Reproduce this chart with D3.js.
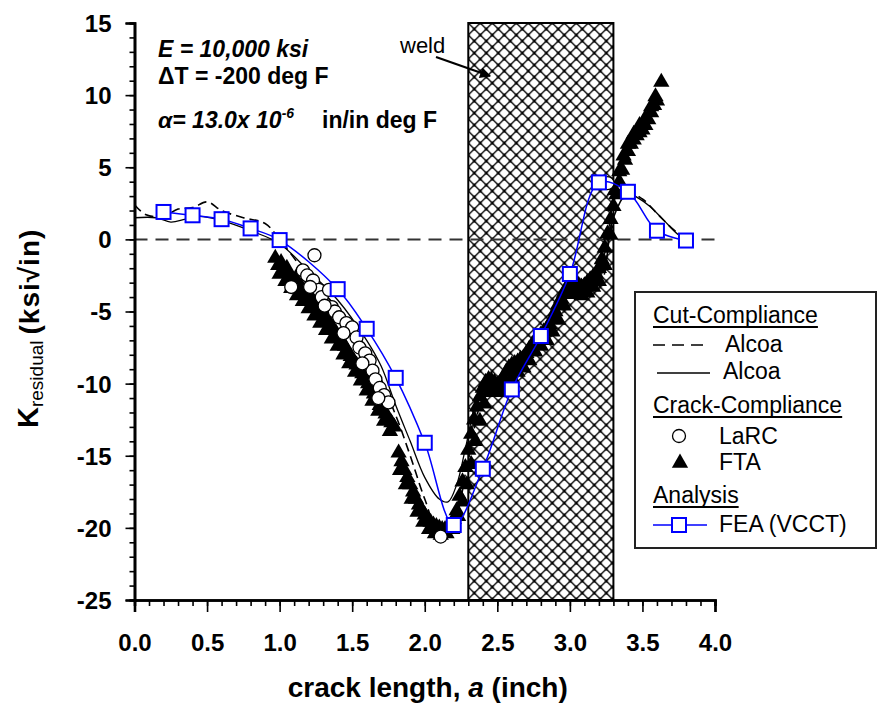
<!DOCTYPE html>
<html lang="en">
<head>
<meta charset="UTF-8">
<title>K residual vs crack length</title>
<script src="https://d3js.org/d3.v7.min.js"></script>
<style>
  body { margin: 0; background: #fff; }
  svg text { font-family: "Liberation Sans", Arial, sans-serif; }
</style>
</head>
<body>
<script>
// ---- data ----
var xTickValues = [0, 0.5, 1, 1.5, 2, 2.5, 3, 3.5, 4];
var yTickValues = [-25, -20, -15, -10, -5, 0, 5, 10, 15];
var weldRange = [2.3, 3.3];

// FEA (VCCT)
var feaData = [[0.2,1.9],[0.4,1.67],[0.6,1.4],[0.8,0.76],[1.0,-0.05],[1.4,-3.45],[1.6,-6.2],
  [1.8,-9.6],[2.0,-14.1],[2.2,-19.8],[2.4,-15.9],[2.6,-10.4],[2.8,-6.7],[3.0,-2.4],
  [3.2,3.95],[3.4,3.3],[3.6,0.6],[3.8,-0.08]];

// Cut-compliance, Alcoa (dashed)
var alcoaDashed = [[0,2.4],[0.08,1.7],[0.2,1.6],[0.3,2.1],[0.4,2.2],[0.5,2.6],[0.6,2.0],[0.75,1.5],
  [0.9,1.1],[1.0,0],[1.2,-2.6],[1.4,-4.8],[1.6,-7.6],[1.8,-12.2],[1.9,-15.0],[2.0,-18.0],
  [2.1,-20.3],[2.2,-19.5],[2.3,-15.2],[2.4,-11.0],[2.5,-9.8],[2.6,-9.8],[2.8,-7.2],[3.0,-3.5],
  [3.1,-3.0],[3.2,-3.3],[3.3,1.5],[3.4,3.2],[3.5,2.8],[3.6,1.8],[3.7,0.8],[3.8,0]];

// Cut-compliance, Alcoa (solid)
var alcoaSolid = [[0,1.5],[0.15,1.5],[0.25,1.2],[0.35,1.4],[0.45,1.6],[0.6,1.3],[0.8,0.6],[1.0,-0.3],
  [1.2,-2.2],[1.4,-4.2],[1.6,-7.0],[1.7,-8.8],[1.8,-11.5],[1.9,-14.0],[2.0,-16.5],[2.1,-18.0],
  [2.16,-18.2],[2.22,-17.0],[2.28,-14.5],[2.36,-11.0],[2.44,-9.4],[2.5,-10.0],[2.6,-10.0],
  [2.7,-8.5],[2.8,-7.5],[2.9,-5.5],[3.0,-3.2],[3.1,-3.0],[3.15,-3.5],[3.2,-2.5],[3.25,-0.5],
  [3.3,2.5],[3.35,3.5],[3.45,3.0],[3.55,2.3],[3.65,1.3],[3.75,0.3],[3.82,0]];

// Crack-compliance, LaRC
var larcData = [[1.08,-3.3],[1.16,-2.15],[1.24,-1.1],[1.19,-2.5],[1.23,-2.85],[1.27,-3.5],
  [1.29,-4.0],[1.34,-3.5],[1.36,-4.7],[1.38,-5.0],[1.41,-5.4],[1.46,-5.8],[1.5,-6.1],
  [1.53,-6.8],[1.55,-7.5],[1.59,-7.9],[1.62,-8.4],[1.64,-9.1],[1.66,-9.7],[1.69,-10.3],
  [1.72,-10.8],[1.75,-11.3],[1.21,-3.3],[1.31,-4.6],[1.44,-6.5],[1.57,-8.6],[1.68,-11.0],
  [2.11,-20.6],[3.26,3.9]];

// Crack-compliance, FTA
var ftaData = [[0.97,-1.3],[0.99,-1.8],[1.01,-1.6],[1.03,-2.3],[1.05,-2.0],[1.07,-2.6],[1.09,-2.9],
  [1.11,-2.7],[1.13,-3.2],[1.15,-3.3],[1.17,-3.6],[1.19,-3.8],[1.21,-4.0],[1.23,-4.3],[1.25,-4.5],
  [1.27,-4.7],[1.29,-5.0],[1.31,-5.3],[1.33,-5.6],[1.35,-5.9],[1.37,-6.2],[1.39,-6.5],[1.41,-6.8],
  [1.43,-7.1],[1.45,-7.4],[1.47,-7.8],[1.49,-8.1],[1.51,-8.4],[1.53,-8.7],[1.55,-9.0],[1.57,-9.3],
  [1.59,-9.7],[1.61,-10.0],[1.63,-10.4],[1.65,-10.7],[1.67,-11.1],[1.69,-11.5],[1.71,-11.8],
  [1.73,-12.1],[1.75,-12.4],[1.77,-12.7],[1.79,-13.0],[1.82,-14.8],[1.84,-15.4],[1.86,-16.0],
  [1.88,-16.5],[1.90,-17.0],[1.92,-17.5],[1.94,-18.0],[1.96,-18.4],[1.98,-18.8],[2.00,-19.1],
  [2.02,-19.4],[2.04,-19.6],[2.06,-19.8],[2.08,-19.9],[2.10,-20.0],[2.12,-20.1],[2.14,-20.1],
  [2.16,-20.0],[2.18,-19.8],[2.20,-19.4],[2.22,-18.8],[2.24,-17.8],[2.26,-16.8],[2.28,-15.8],
  [2.30,-14.6],[2.32,-13.5],[2.34,-12.5],[2.36,-11.6],[2.38,-10.9],[2.40,-10.3],[2.42,-9.9],
  [2.44,-9.7],[2.46,-9.8],[2.48,-9.9],[2.50,-10.1],[2.52,-10.0],[2.54,-9.6],[2.56,-9.2],
  [2.58,-8.9],[2.60,-8.7],[2.62,-8.6],[2.64,-8.5],[2.66,-8.3],[2.68,-8.2],[2.70,-7.9],[2.72,-7.6],
  [2.74,-7.3],[2.76,-7.0],[2.78,-6.8],[2.80,-6.6],[2.82,-6.4],[2.84,-6.2],[2.86,-5.9],[2.88,-5.5],
  [2.90,-5.0],[2.92,-4.5],[2.94,-4.1],[2.96,-3.7],[2.98,-3.3],[3.00,-3.0],[3.02,-2.9],[3.04,-3.0],
  [3.06,-3.2],[3.08,-3.3],[3.10,-3.2],[3.12,-3.0],[3.14,-2.8],[3.16,-2.6],[3.18,-2.4],[3.20,-2.0],
  [3.22,-1.4],[3.24,-0.6],[3.26,0.4],[3.28,1.4],[3.30,2.3],[3.32,3.1],[3.34,4.0],[3.36,4.8],
  [3.38,5.5],[3.40,6.1],[3.42,6.6],[3.44,6.9],[3.46,7.2],[3.48,7.4],[3.50,7.6],[3.52,7.9],
  [3.54,8.3],[3.56,8.8],[3.58,9.3],[3.60,9.6],[3.63,10.9],
  // second, lower row of the scattered band
  [1.00,-2.4],[1.04,-2.9],[1.08,-3.4],[1.12,-3.9],[1.16,-4.3],[1.20,-4.8],[1.24,-5.3],[1.28,-5.8],
  [1.32,-6.3],[1.36,-6.9],[1.40,-7.4],[1.44,-8.0],[1.48,-8.6],[1.52,-9.2],[1.56,-9.8],[1.60,-10.5],
  [1.64,-11.2],[1.68,-11.9],[1.72,-12.6],[1.76,-13.3],[1.83,-16.0],[1.87,-17.0],[1.91,-18.0],
  [1.95,-18.9],[1.99,-19.6],[2.03,-20.1],[2.07,-20.4],[2.11,-20.5],[2.15,-20.4],[2.19,-20.1],
  [2.23,-19.2],[2.26,-18.2],[2.29,-17.0],[2.32,-15.6],[2.35,-14.0],[2.38,-12.6],[2.41,-11.4],
  [2.44,-10.6],[2.48,-10.6],[2.52,-10.6],[2.56,-10.2],[2.60,-9.6],[2.64,-9.2],[2.68,-8.9],
  [2.72,-8.4],[2.76,-7.8],[2.80,-7.4],[2.84,-7.0],[2.88,-6.4],[2.92,-5.6],[2.96,-4.6],[3.00,-3.8],
  [3.04,-3.6],[3.08,-3.9],[3.12,-3.7],[3.16,-3.3],[3.20,-2.9],[3.24,-1.8],[3.28,0.3],[3.31,3.4],
  [3.34,4.7],[3.37,5.8],[3.40,6.6],[3.44,7.3],[3.48,7.9],[3.52,8.4],[3.56,9.2],[3.59,9.9]];

// ---- layout ----
var width = 878, height = 707;
var margin = {top: 23, right: 163, bottom: 107, left: 134.5};

var svg = d3.select("body").append("svg")
    .attr("width", width)
    .attr("height", height);

var x = d3.scaleLinear().domain([0, 4]).range([margin.left, width - margin.right]);
var y = d3.scaleLinear().domain([-25, 15]).range([height - margin.bottom, margin.top]);

// crosshatch for the weld zone
var defs = svg.append("defs");
var pat = defs.append("pattern")
    .attr("id", "hatch")
    .attr("patternUnits", "userSpaceOnUse")
    .attr("width", 12).attr("height", 12)
    .attr("x", x(weldRange[0])).attr("y", margin.top);
pat.append("rect").attr("width", 12).attr("height", 12).attr("fill", "#fff");
pat.append("path")
    .attr("d", "M0,0L12,12M12,0L0,12M-6,6L6,18M6,-6L18,6M-6,6L6,-6M6,18L18,6")
    .attr("stroke", "#000").attr("stroke-width", 1.35);
[[6,6],[0,0],[12,0],[0,12],[12,12]].forEach(function(p) {
  pat.append("circle").attr("cx", p[0]).attr("cy", p[1]).attr("r", 1.6).attr("fill", "#000");
});

svg.append("rect")
    .attr("x", x(weldRange[0]))
    .attr("y", y(15))
    .attr("width", x(weldRange[1]) - x(weldRange[0]))
    .attr("height", y(-25) - y(15))
    .attr("fill", "url(#hatch)")
    .attr("stroke", "#000")
    .attr("stroke-width", 2);

// zero line
svg.append("line")
    .attr("x1", x(0)).attr("x2", x(4))
    .attr("y1", y(0)).attr("y2", y(0))
    .attr("stroke", "#333").attr("stroke-width", 2)
    .attr("stroke-dasharray", "13,8");

var line = d3.line().x(function(d) { return x(d[0]); }).y(function(d) { return y(d[1]); })
    .curve(d3.curveCatmullRom);

svg.append("path")
    .datum(alcoaSolid)
    .attr("d", line)
    .attr("fill", "none").attr("stroke", "#000").attr("stroke-width", 1.3);

svg.append("path")
    .datum(alcoaDashed)
    .attr("d", line)
    .attr("fill", "none").attr("stroke", "#000").attr("stroke-width", 1.6)
    .attr("stroke-dasharray", "9,5");

// FTA triangles
var tri = d3.symbol().type(d3.symbolTriangle).size(115);
svg.append("g").selectAll("path")
    .data(ftaData)
    .enter().append("path")
    .attr("d", tri)
    .attr("transform", function(d) { return "translate(" + x(d[0]) + "," + y(d[1]) + ")"; })
    .attr("fill", "#000");

// LaRC circles
svg.append("g").selectAll("circle")
    .data(larcData)
    .enter().append("circle")
    .attr("cx", function(d) { return x(d[0]); })
    .attr("cy", function(d) { return y(d[1]); })
    .attr("r", 6.5)
    .attr("fill", "#fff").attr("stroke", "#000").attr("stroke-width", 1.3);

// FEA line + squares
svg.append("path")
    .datum(feaData)
    .attr("d", line)
    .attr("fill", "none").attr("stroke", "#0000ff").attr("stroke-width", 1.5);

svg.append("g").selectAll("rect")
    .data(feaData)
    .enter().append("rect")
    .attr("x", function(d) { return x(d[0]) - 7; })
    .attr("y", function(d) { return y(d[1]) - 7; })
    .attr("width", 14).attr("height", 14)
    .attr("fill", "#fff").attr("stroke", "#0000ff").attr("stroke-width", 2);

// axes
svg.append("g")
    .attr("transform", "translate(0," + y(-25) + ")")
    .call(d3.axisBottom(x).tickValues(xTickValues).tickSize(12).tickPadding(22)
        .tickFormat(d3.format(".1f")));
svg.append("g")
    .attr("transform", "translate(0," + y(-25) + ")")
    .call(d3.axisBottom(x).tickValues(d3.range(0, 41).map(function(i) { return i / 10; }))
        .tickSize(6).tickFormat(""));

var yAxis = svg.append("g")
    .attr("transform", "translate(" + x(0) + ",0)")
    .call(d3.axisLeft(y).tickValues(yTickValues).tickSize(9).tickPadding(14)
        .tickFormat(function(d) { return String(d); }));
svg.append("g")
    .attr("transform", "translate(" + x(0) + ",0)")
    .call(d3.axisLeft(y).tickValues(d3.range(-25, 16)).tickSize(5).tickFormat(""));

svg.selectAll(".domain").attr("stroke", "#000").attr("stroke-width", 2.6);
svg.selectAll(".tick line").attr("stroke", "#000").attr("stroke-width", 1.6);
svg.selectAll(".tick text")
    .attr("fill", "#000")
    .style("font-size", "24px")
    .style("font-weight", "bold");
yAxis.selectAll(".tick text").attr("dy", "0.35em");

// axis titles
var xt = svg.append("text")
    .attr("x", (x(0) + x(4)) / 2 + 3)
    .attr("y", 697)
    .attr("text-anchor", "middle")
    .style("font-size", "28px")
    .style("font-weight", "bold");
xt.append("tspan").text("crack length, ");
xt.append("tspan").style("font-style", "italic").text("a");
xt.append("tspan").text(" (inch)");

var yt = svg.append("text")
    .attr("transform", "translate(38,428) rotate(-90)")
    .style("font-weight", "bold");
yt.append("tspan").style("font-size", "29px").text("K");
yt.append("tspan").style("font-size", "19px").style("font-weight", "normal")
    .attr("dy", 5).text("residual");
yt.append("tspan").style("font-size", "28px").attr("dy", -4).attr("dx", 6)
    .attr("letter-spacing", 1).text("(ksi\u221Ain)");

// annotations
svg.append("text").attr("x", 158).attr("y", 57)
    .style("font-size", "23px").style("font-weight", "bold").style("font-style", "italic")
    .text("E = 10,000 ksi");
svg.append("text").attr("x", 158).attr("y", 84)
    .style("font-size", "23px").style("font-weight", "bold")
    .text("\u0394T = -200 deg F");
var al = svg.append("text").attr("x", 158).attr("y", 128)
    .style("font-size", "23px").style("font-weight", "bold");
al.append("tspan").style("font-style", "italic").text("\u03B1= 13.0x 10");
al.append("tspan").style("font-style", "italic").style("font-size", "14px")
    .attr("dy", -10).text("-6");
al.append("tspan").attr("dy", 10).attr("x", 322).text("in/in deg F");

svg.append("text").attr("x", 400).attr("y", 53)
    .style("font-size", "22px")
    .text("weld");

defs.append("marker")
    .attr("id", "arrow")
    .attr("viewBox", "0 0 10 10")
    .attr("refX", 9).attr("refY", 5)
    .attr("markerWidth", 6).attr("markerHeight", 5)
    .attr("markerUnits", "strokeWidth")
    .attr("orient", "auto")
    .append("path").attr("d", "M0,0L10,5L0,10z").attr("fill", "#000");
svg.append("line")
    .attr("x1", 436).attr("y1", 57).attr("x2", 490).attr("y2", 76)
    .attr("stroke", "#000").attr("stroke-width", 2.2)
    .attr("marker-end", "url(#arrow)");

// legend
var lg = svg.append("g");
lg.append("rect")
    .attr("x", 635).attr("y", 292).attr("width", 241).attr("height", 256)
    .attr("fill", "#fff").attr("stroke", "#222").attr("stroke-width", 2);

function legendText(tx, ty, label, underline) {
  var t = lg.append("text").attr("x", tx).attr("y", ty).style("font-size", "23px").text(label);
  if (underline) {
    var w = t.node().getComputedTextLength();
    lg.append("line").attr("x1", tx).attr("x2", tx + w)
      .attr("y1", ty + 4).attr("y2", ty + 4)
      .attr("stroke", "#000").attr("stroke-width", 1.8);
  }
}
legendText(653, 323, "Cut-Compliance", true);
lg.append("line").attr("x1", 653).attr("x2", 707).attr("y1", 345).attr("y2", 345)
    .attr("stroke", "#000").attr("stroke-width", 1.6).attr("stroke-dasharray", "12,7");
legendText(725, 352, "Alcoa");
lg.append("line").attr("x1", 657).attr("x2", 710).attr("y1", 373).attr("y2", 373)
    .attr("stroke", "#000").attr("stroke-width", 1.5);
legendText(723, 379, "Alcoa");
legendText(653, 413, "Crack-Compliance", true);
lg.append("circle").attr("cx", 679).attr("cy", 436).attr("r", 6.5)
    .attr("fill", "#fff").attr("stroke", "#000").attr("stroke-width", 1.3);
legendText(719, 444, "LaRC");
lg.append("path").attr("d", tri).attr("transform", "translate(680,463)").attr("fill", "#000");
legendText(719, 470, "FTA");
legendText(653, 503, "Analysis", true);
lg.append("line").attr("x1", 653).attr("x2", 707).attr("y1", 525).attr("y2", 525)
    .attr("stroke", "#0000ff").attr("stroke-width", 1.5);
lg.append("rect").attr("x", 672).attr("y", 518).attr("width", 14).attr("height", 14)
    .attr("fill", "#fff").attr("stroke", "#0000ff").attr("stroke-width", 2);
legendText(719, 532, "FEA  (VCCT)");
</script>
</body>
</html>
